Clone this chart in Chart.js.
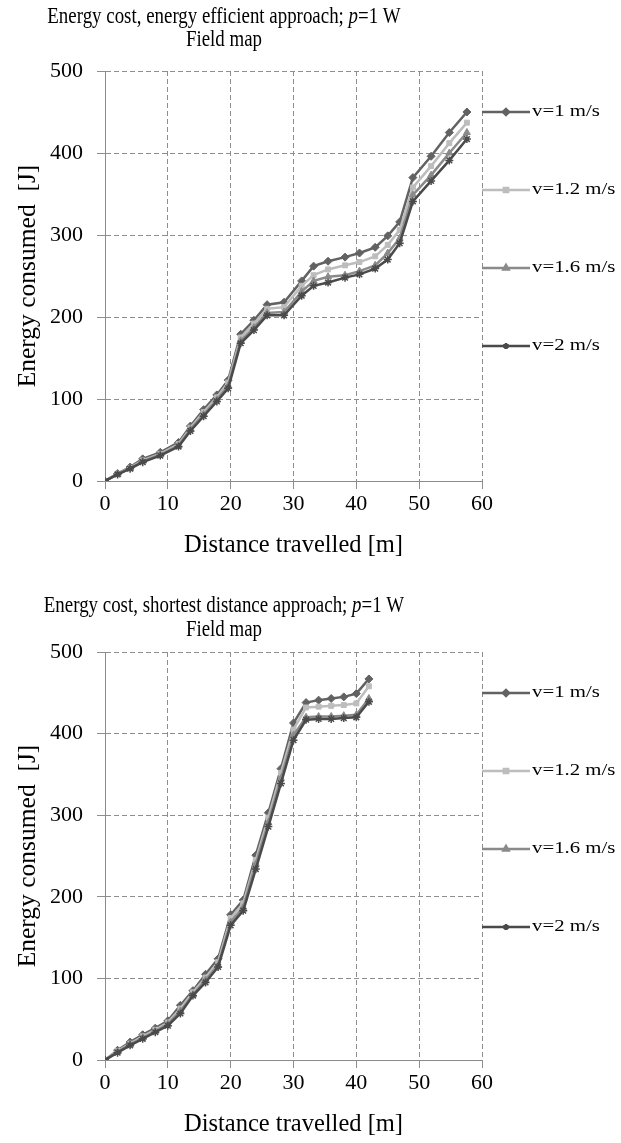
<!DOCTYPE html>
<html>
<head>
<meta charset="utf-8">
<script src="https://cdn.jsdelivr.net/npm/chart.js@4.4.1/dist/chart.umd.min.js"></script>
<style>
  html, body { margin: 0; padding: 0; background: #fff; }
  #wrap { position: relative; width: 621px; height: 1143px; overflow: hidden; }
  canvas { position: absolute; left: 0; }
</style>
</head>
<body>
<div id="wrap">
  <canvas id="graficoEficiente" width="621" height="561" style="top:0"></canvas>
  <canvas id="graficoCurto" width="621" height="582" style="top:561px"></canvas>
</div>
<script>
// legenda e cores das séries
const rotulos = ["v=1 m/s", "v=1.2 m/s", "v=1.6 m/s", "v=2 m/s"];
const cores = ["#626262", "#bdbdbd", "#8a8a8a", "#4a4a4a"];
const marcadores = ["rectRot", "rect", "triangle", "star"];

// gráfico de cima: abordagem energeticamente eficiente
const distEficiente = [0, 2, 4, 6, 8.8, 11.7, 13.6, 15.7, 17.8, 19.6, 21.6, 23.7, 25.8, 28.5, 31.3, 33.2, 35.5, 38.2, 40.5, 43, 45, 46.9, 49, 51.9, 54.8, 57.6];
const efV1  = [0, 9, 17, 27, 35, 47, 67, 87, 105, 123, 179, 196, 215, 218, 244, 262, 268, 273, 278, 285, 299, 316, 370, 396, 425, 450];
const efV12 = [0, 9, 16, 25, 33, 45, 65, 84, 102, 120, 175, 192, 210, 212, 238, 251, 258, 263, 267, 274, 288, 306, 358, 384, 412, 437];
const efV16 = [0, 8, 15, 24, 32, 43, 63, 81, 99, 116, 171, 187, 205, 206, 231, 244, 249, 251, 256, 263, 278, 296, 349, 373, 400, 425];
const efV2  = [0, 8, 15, 23, 31, 42, 61, 79, 97, 113, 168, 184, 202, 202, 226, 238, 242, 248, 252, 259, 270, 290, 341, 366, 391, 417];

// gráfico de baixo: menor distância
const distCurto = [0, 2, 4, 6, 8, 10, 12, 14, 16, 18, 20, 22, 24, 26, 28, 30, 32, 34, 36, 38, 40, 42];
const cuV1  = [0, 12, 22, 31, 39, 48, 67, 85, 105, 124, 178, 196, 251, 303, 357, 413, 438, 441, 443, 445, 449, 467];
const cuV12 = [0, 11, 20, 29, 37, 46, 63, 83, 101, 120, 174, 192, 245, 297, 352, 405, 432, 433, 434, 435, 437, 458];
const cuV16 = [0, 10, 19, 27, 35, 44, 60, 80, 98, 116, 169, 187, 240, 291, 345, 398, 420, 421, 421, 422, 423, 443];
const cuV2  = [0, 9, 18, 26, 34, 42, 57, 79, 95, 114, 165, 183, 234, 286, 339, 392, 417, 418, 418, 419, 420, 439];

const ticksX = { min: 0, max: 60, passo: 10 };
const ticksY = { min: 0, max: 500, passo: 100 };

const SERIF = "'Liberation Serif', 'Times New Roman', serif";

function montaSeries(dist, listas) {
    return listas.map((vals, i) => ({
        label: rotulos[i],
        data: dist.map((d, k) => ({ x: d, y: vals[k] })),
        borderColor: cores[i],
        backgroundColor: cores[i],
        pointBackgroundColor: cores[i],
        pointBorderColor: cores[i],
        pointStyle: marcadores[i],
        pointRadius: i === 1 ? 3.5 : 4,
        pointBorderWidth: i === 3 ? 1.5 : 1,
        borderWidth: 2.5,
        tension: 0,
        order: 4 - i
    }));
}

// título (com p em itálico) e legenda no estilo do Excel
const decoracao = {
    id: "decoracao",
    afterDraw(chart, args, opts) {
        const ctx = chart.ctx;
        const area = chart.chartArea;

        ctx.save();
        ctx.fillStyle = "#000";
        ctx.textBaseline = "middle";

        const partes = [
            { t: opts.titulo, it: false },
            { t: "p", it: true },
            { t: "=1 W", it: false }
        ];
        ctx.translate(opts.centroX, opts.yTitulo);
        ctx.scale(0.84, 1);
        let total = 0;
        partes.forEach(p => {
            ctx.font = (p.it ? "italic " : "") + "22.5px " + SERIF;
            p.w = ctx.measureText(p.t).width;
            total += p.w;
        });
        let x = -total / 2;
        partes.forEach(p => {
            ctx.font = (p.it ? "italic " : "") + "22.5px " + SERIF;
            ctx.fillText(p.t, x, 0);
            x += p.w;
        });
        ctx.textAlign = "center";
        ctx.font = "22.5px " + SERIF;
        ctx.fillText("Field map", 0, opts.ySub - opts.yTitulo);
        ctx.restore();

        // legenda
        chart.data.datasets.forEach((ds, i) => {
            const y = area.top + 41 + 78 * i;
            const x0 = area.right;
            ctx.save();
            ctx.strokeStyle = ds.borderColor;
            ctx.lineWidth = 2.5;
            ctx.beginPath();
            ctx.moveTo(x0, y);
            ctx.lineTo(x0 + 48, y);
            ctx.stroke();
            ctx.fillStyle = ds.borderColor;
            ctx.strokeStyle = ds.borderColor;
            Chart.helpers.drawPoint(ctx, {
                pointStyle: ds.pointStyle,
                radius: 3,
                rotation: 0,
                borderWidth: 1
            }, x0 + 24, y);

            ctx.fillStyle = "#000";
            ctx.textBaseline = "middle";
            ctx.translate(x0 + 50, y);
            ctx.scale(1.3, 1);
            ctx.font = "16px " + SERIF;
            ctx.fillText(ds.label, 0, 0);
            ctx.restore();
        });
    }
};

function criaGrafico(idCanvas, dist, listas, cfg) {
    const fonteTick = { family: SERIF, size: 22 };
    return new Chart(document.getElementById(idCanvas), {
        type: "line",
        data: { datasets: montaSeries(dist, listas) },
        plugins: [decoracao],
        options: {
            responsive: false,
            animation: false,
            devicePixelRatio: 1,
            layout: { padding: { left: 0, right: 139, top: cfg.topo, bottom: 0 } },
            plugins: {
                legend: { display: false },
                tooltip: { enabled: false },
                decoracao: {
                    titulo: cfg.titulo,
                    centroX: 224,
                    yTitulo: cfg.yTitulo,
                    ySub: cfg.ySub
                }
            },
            scales: {
                x: {
                    type: "linear",
                    min: ticksX.min,
                    max: ticksX.max,
                    ticks: { stepSize: ticksX.passo, font: fonteTick, color: "#000", padding: 2, maxRotation: 0 },
                    grid: { color: "#8e8e8e", lineWidth: 1, tickLength: 8, tickColor: "#8e8e8e", tickBorderDash: [] },
                    border: { color: "#8a8a8a", width: 1, dash: [5, 3] },
                    title: {
                        display: true,
                        text: "Distance travelled [m]",
                        color: "#000",
                        font: { family: SERIF, size: 24.5 },
                        padding: { top: 0, bottom: cfg.padTituloX }
                    },
                    afterFit: s => { s.height = cfg.alturaX; }
                },
                y: {
                    min: ticksY.min,
                    max: ticksY.max,
                    ticks: { stepSize: ticksY.passo, font: fonteTick, color: "#000", padding: 14 },
                    grid: { color: "#8e8e8e", lineWidth: 1, tickLength: 8, tickColor: "#8e8e8e", tickBorderDash: [] },
                    border: { color: "#8a8a8a", width: 1, dash: [5, 3] },
                    title: {
                        display: true,
                        text: "Energy consumed  [J]",
                        color: "#000",
                        font: { family: SERIF, size: 25.5 },
                        padding: { top: 13, bottom: 0 }
                    },
                    afterFit: s => { s.width = 105; }
                }
            }
        }
    });
}

criaGrafico("graficoEficiente", distEficiente, [efV1, efV12, efV16, efV2], {
    titulo: "Energy cost, energy efficient approach; ",
    topo: 71, alturaX: 80, padTituloX: 1, yTitulo: 17, ySub: 40
});

criaGrafico("graficoCurto", distCurto, [cuV1, cuV12, cuV16, cuV2], {
    titulo: "Energy cost, shortest distance approach; ",
    topo: 91, alturaX: 83, padTituloX: 4, yTitulo: 45, ySub: 69
});
</script>
</body>
</html>
